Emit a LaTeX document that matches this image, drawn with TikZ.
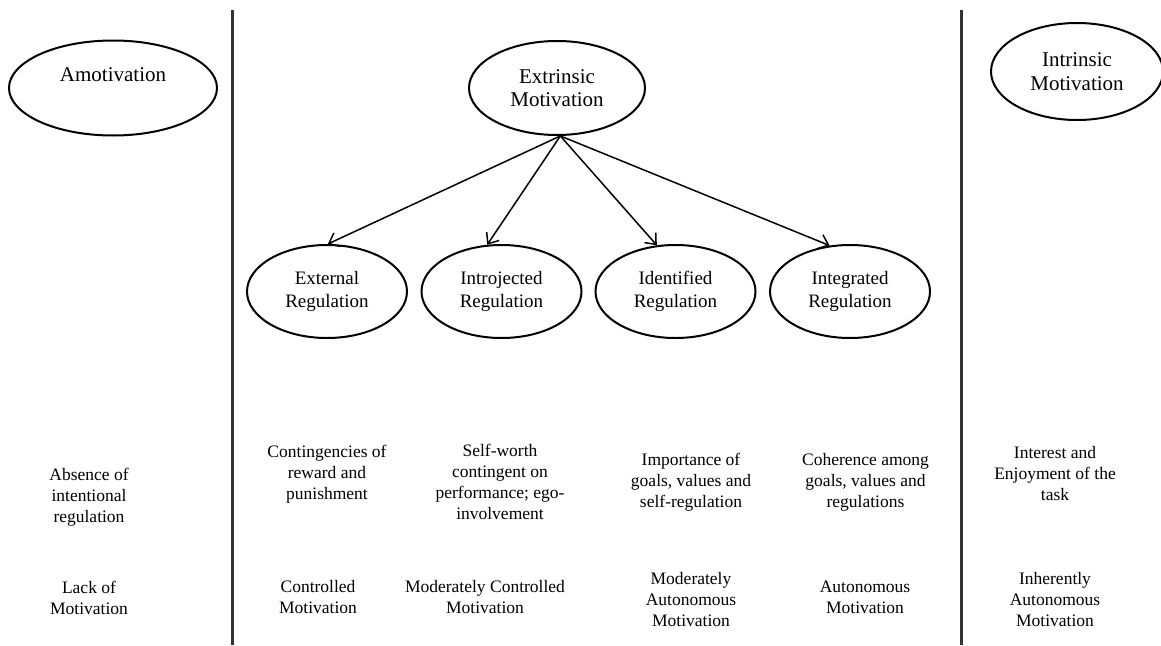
\documentclass[tikz,border=0pt]{standalone}
\usepackage{fontspec}
\setmainfont{Liberation Serif}
\usetikzlibrary{shapes.geometric,arrows.meta}
\begin{document}
\begin{tikzpicture}[x=1pt,y=-1pt,
  oval/.style={draw=black,line width=2pt,ellipse,inner sep=0pt,
    minimum width=160pt,minimum height=93pt,align=center,
    font=\fontsize{19}{23}\selectfont},
  topoval/.style={oval,font=\fontsize{21}{23.5}\selectfont},
  desc/.style={align=center,inner sep=0pt,font=\fontsize{17.5}{21}\selectfont},
  divider/.style={line width=3pt,draw=black!80},
  arr/.style={line width=1.5pt,-{Straight Barb[length=9pt,width=15pt,line width=1.5pt]}}]
\useasboundingbox (0,0) rectangle (1161,645);
% dividers
\coordinate (d1t) at (232,10); \coordinate (d1b) at (232,645);
\coordinate (d2t) at (961,10); \coordinate (d2b) at (961,645);
\draw[divider] (d1t) -- (d1b);
\draw[divider] (d2t) -- (d2b);
% top ellipses
\node[topoval,minimum width=208pt,minimum height=95pt] (amot) at (113,88) {};
\node[inner sep=0pt,font=\fontsize{21}{23.5}\selectfont] (amottext) at (113,75) {Amotivation};
\node[topoval,minimum width=176pt,minimum height=94pt] (ext) at (557,88) {Extrinsic\\Motivation};
\node[topoval,minimum width=172pt,minimum height=97pt] (intr) at (1077,71.5) {Intrinsic\\Motivation};
% regulation ellipses
\node[oval] (er) at (327,291.5) {External\\Regulation};
\node[oval] (ir) at (501.5,291.5) {Introjected\\Regulation};
\node[oval] (idr) at (675.5,291.5) {Identified\\Regulation};
\node[oval] (igr) at (850,291.5) {Integrated\\Regulation};
% arrows
\coordinate (src) at (ext.-86);
\draw[arr] (src) -- (er.89);
\draw[arr] (src) -- (ir.107);
\draw[arr] (src) -- (idr.112);
\draw[arr] (src) -- (igr.114);
% descriptions
\node[desc] (a1) at (89,497) {Absence of\\intentional\\regulation};
\node[desc] (b1) at (327,474) {Contingencies of\\reward and\\punishment};
\node[desc] (c1) at (500,482) {Self-worth\\contingent on\\performance; ego-\\involvement};
\node[desc] (d1) at (691,482) {Importance of\\goals, values and\\self-regulation};
\node[desc] (e1) at (865.5,482) {Coherence among\\goals, values and\\regulations};
\node[desc] (f1) at (1055,474) {Interest and\\Enjoyment of the\\task};
% motivation type
\node[desc] (a2) at (89,598) {Lack of\\Motivation};
\node[desc] (b2) at (318,597) {Controlled\\Motivation};
\node[desc] (c2) at (485,597) {Moderately Controlled\\Motivation};
\node[desc] (d2) at (691,600) {Moderately\\Autonomous\\Motivation};
\node[desc] (e2) at (865,597.5) {Autonomous\\Motivation};
\node[desc] (f2) at (1055,600) {Inherently\\Autonomous\\Motivation};
\end{tikzpicture}
\end{document}
